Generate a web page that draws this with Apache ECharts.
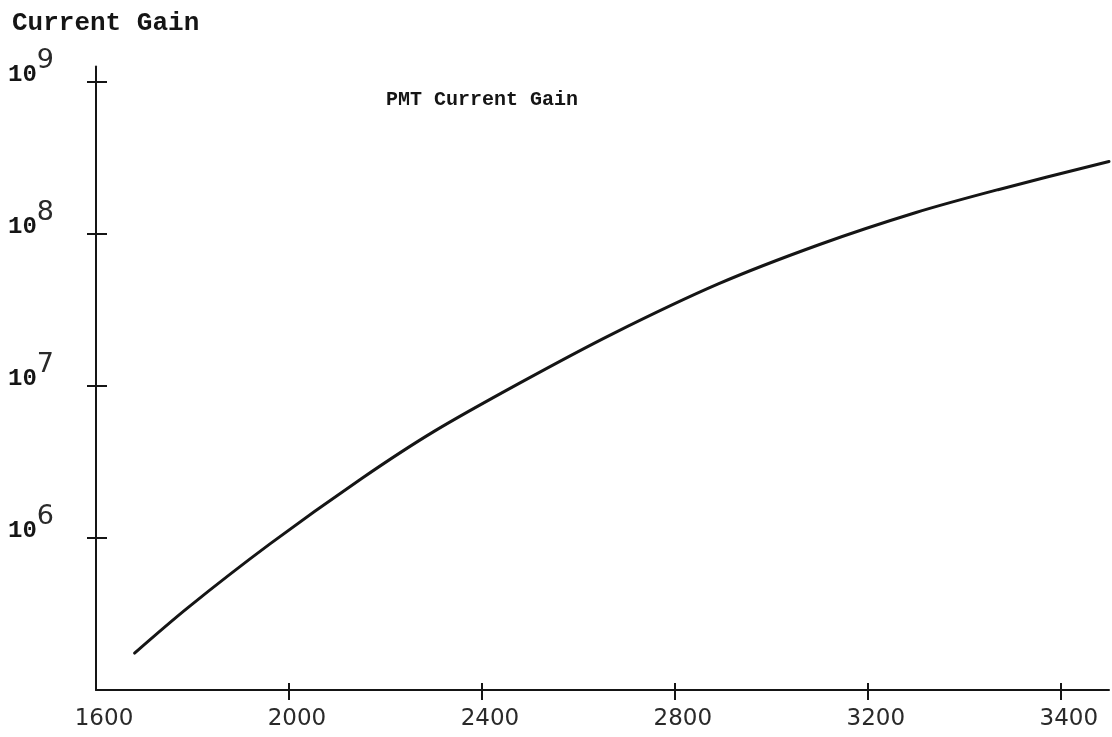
<!DOCTYPE html>
<html>
<head>
<meta charset="utf-8">
<script src="https://cdn.jsdelivr.net/npm/echarts@6/dist/echarts.min.js"></script>
<style>
html,body{margin:0;padding:0;background:#fff;}
#chart{width:1112px;height:737px;}
</style>
</head>
<body>
<div id="chart"></div>
<script>
// Supply voltage (V) and PMT current gain
const voltage = [1680, 1790, 1960, 2150, 2300, 2480, 2670, 2890, 3100, 3300, 3470, 3700];
const gain = [1.75e5, 3.47e5, 9.1e5, 2.45e6, 5.0e6, 1.05e7, 2.19e7, 4.68e7, 8.5e7, 1.38e8, 1.95e8, 2.99e8];

const xTickValues = [1600, 2000, 2400, 2800, 3200, 3600];
const xTickLabels = ['1600', '2000', '2400', '2800', '3200', '3400'];
const yTickValues = [1e6, 1e7, 1e8, 1e9];
const yTickExponents = ['6', '7', '8', '9'];

const titleText = 'PMT Current Gain';
const yAxisTitle = 'Current Gain';

const ink = '#151515';
const xMin = 1600, xMax = 3700;
const yMin = 1e5, yMax = Math.pow(10, 9.1);

const chart = echarts.init(document.getElementById('chart'), null, {renderer: 'canvas'});

const xTickMarks = xTickValues.filter(v => v > xMin);

const baseX = {
  type: 'value', gridIndex: 0, position: 'bottom', min: xMin, max: xMax,
  splitLine: {show: false}
};
const baseY = {
  type: 'log', gridIndex: 0, position: 'left', min: yMin, max: yMax, logBase: 10,
  splitLine: {show: false}, minorTick: {show: false}, minorSplitLine: {show: false}
};

chart.setOption({
  backgroundColor: '#ffffff',
  animation: false,
  title: [
    {text: yAxisTitle, left: 7, top: 5,
     textStyle: {fontFamily: 'Liberation Mono', fontSize: 26, fontWeight: 'bold', color: ink}},
    {text: titleText, left: 381, top: 85,
     textStyle: {fontFamily: 'Liberation Mono', fontSize: 20, fontWeight: 'bold', color: ink}}
  ],
  grid: {left: 96, right: 3, top: 66.5, bottom: 47, containLabel: false},
  xAxis: [
    Object.assign({}, baseX, {
      axisLine: {show: true, lineStyle: {color: ink, width: 2}},
      axisTick: {show: true, inside: false, length: 10, customValues: xTickMarks, lineStyle: {color: ink, width: 2}},
      axisLabel: {
        show: true, customValues: xTickValues, margin: 18,
        fontFamily: 'DejaVu Sans', fontSize: 23, color: '#2a2a2a',
        padding: [0, 0, 0, 16],
        formatter: function (v) {
          const i = xTickValues.indexOf(Math.round(v));
          return i >= 0 ? xTickLabels[i] : '';
        }
      }
    }),
    Object.assign({}, baseX, {
      axisLine: {show: false},
      axisTick: {show: true, inside: true, length: 7, customValues: xTickMarks, lineStyle: {color: ink, width: 2}},
      axisLabel: {show: false}
    })
  ],
  yAxis: [
    Object.assign({}, baseY, {
      axisLine: {show: true, lineStyle: {color: ink, width: 2}},
      axisTick: {show: true, inside: false, length: 9, customValues: yTickValues, lineStyle: {color: ink, width: 2}},
      axisLabel: {
        show: true, customValues: yTickValues, margin: 42,
        padding: [0, 0, 27, 0],
        formatter: function (v) {
          let idx = -1;
          yTickValues.forEach((t, i) => { if (Math.abs(Math.log10(v) - Math.log10(t)) < 1e-6) idx = i; });
          return idx >= 0 ? '{b|10}{s|' + yTickExponents[idx] + '}' : '';
        },
        rich: {
          b: {fontFamily: 'Liberation Mono', fontSize: 24, fontWeight: 'bold', lineHeight: 24, color: ink, padding: [14, 0, 0, 0]},
          s: {fontFamily: 'DejaVu Sans', fontSize: 27, lineHeight: 24, color: '#2a2a2a', padding: [0, 0, 14, 0]}
        }
      }
    }),
    Object.assign({}, baseY, {
      axisLine: {show: false},
      axisTick: {show: true, inside: true, length: 11, customValues: yTickValues, lineStyle: {color: ink, width: 2}},
      axisLabel: {show: false}
    })
  ],
  series: [{
    type: 'line',
    xAxisIndex: 0, yAxisIndex: 0,
    data: voltage.map((v, i) => [v, gain[i]]),
    smooth: 0.3,
    showSymbol: false,
    lineStyle: {color: ink, width: 3, cap: 'round'},
    clip: false
  }]
});
</script>
</body>
</html>
